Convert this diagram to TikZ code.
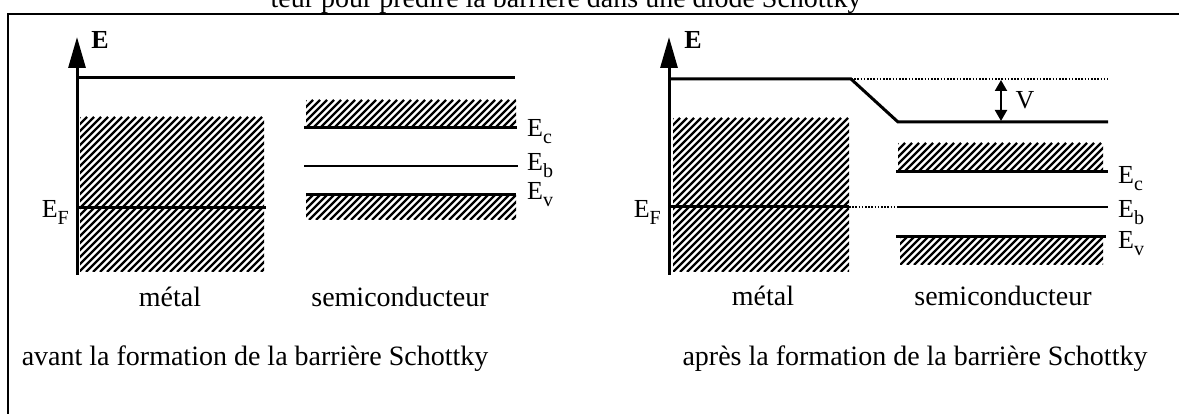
\documentclass[tikz,border=0pt]{standalone}
\usepackage{fontspec}
\setmainfont{Liberation Serif}
\usetikzlibrary{arrows.meta}
\newcommand\hatchrect[4]{%
  \begin{scope}
    \clip (#1,#2) rectangle (#3,#4);
    \pgfmathtruncatemacro\hh{#4-#2}
    \pgfmathtruncatemacro\kstart{#1-(#4-#2)}
    \pgfmathtruncatemacro\knext{\kstart+7}
    \foreach \k in {\kstart,\knext,...,#3} \draw[hatchline] (\k,#4) -- ++(\hh,-\hh);
  \end{scope}}
\newcommand\lbl{\fontsize{28}{30}\selectfont}
\newcommand\sub[1]{{\fontsize{20}{20}\selectfont\raisebox{-7pt}{#1}}}
\begin{document}
\begin{tikzpicture}[x=1pt,y=-1pt,
  frameline/.style={line width=2.4pt},
  level/.style={line width=3pt},
  thinlevel/.style={line width=2.2pt},
  dotline/.style={line width=1.2pt,dash pattern=on 1.6pt off 1.6pt},
  hatchline/.style={line width=2.3pt},
  axis/.style={line width=3pt,-{Triangle[length=31pt,width=17pt]}},
  varrow/.style={line width=2pt,{Triangle[length=11pt,width=12pt]}-{Triangle[length=11pt,width=12pt]}},
  axlabel/.style={font=\fontsize{26}{28}\selectfont\bfseries,inner sep=0pt},
  txt/.style={font=\lbl,inner sep=0pt},
  elabel/.style={font=\fontsize{26}{28}\selectfont,inner sep=0pt}]
\useasboundingbox (0,0) rectangle (1179,414);
\clip (0,0) rectangle (1179,414);
% frame and clipped title
\draw[frameline] (8,414) -- (8,14) -- (1179,14);
\node[txt,anchor=base] (title) at (566,8) {teur pour prédire la barrière dans une diode Schottky};

% ---------------- left diagram ----------------
\coordinate (La0) at (77,275);
\coordinate (La1) at (77,37);
\draw[axis] (La0) -- (La1);
\node[axlabel] (LE) at (100,40) {E};
\coordinate (Lvac0) at (77,78);
\coordinate (Lvac1) at (515,78);
\draw[level] (Lvac0) -- (Lvac1);
\hatchrect{80}{117}{264}{272}
\coordinate (LF0) at (77,208);
\coordinate (LF1) at (266,208);
\draw[level] (LF0) -- (LF1);
\node[elabel,anchor=base east] (LEF) at (69,218) {E\sub{F}};
% semiconductor
\hatchrect{306}{100}{516}{128}
\coordinate (LC0) at (304,128);
\coordinate (LC1) at (517,128);
\draw[level] (LC0) -- (LC1);
\coordinate (LB0) at (304,166);
\coordinate (LB1) at (518,166);
\draw[thinlevel] (LB0) -- (LB1);
\coordinate (LV0) at (306,195);
\coordinate (LV1) at (516,195);
\draw[level] (LV0) -- (LV1);
\hatchrect{306}{195}{516}{220}
\node[elabel,anchor=base west] (LEc) at (527,137) {E\sub{c}};
\node[elabel,anchor=base west] (LEb) at (527,171) {E\sub{b}};
\node[elabel,anchor=base west] (LEv) at (527,200) {E\sub{v}};
\node[txt,anchor=base] (Lmet) at (170,307) {métal};
\node[txt,anchor=base] (Lsem) at (400,307) {semiconducteur};
\node[txt,anchor=base] (Lcap) at (255,366) {avant la formation de la barrière Schottky};

% ---------------- right diagram ----------------
\coordinate (Ra0) at (669,275);
\coordinate (Ra1) at (669,37);
\draw[axis] (Ra0) -- (Ra1);
\node[axlabel] (RE) at (693,40) {E};
\coordinate (Rvac0) at (669,79);
\coordinate (Rvac1) at (851,79);
\coordinate (Rvac2) at (898,122);
\coordinate (Rvac3) at (1108,122);
\coordinate (Rdot1) at (1108,79);
\draw[level] (Rvac0) -- (Rvac1) -- (Rvac2) -- (Rvac3);
\draw[dotline] (Rvac1) -- (Rdot1);
\coordinate (Rv0) at (1001,80);
\coordinate (Rv1) at (1001,121);
\draw[varrow] (Rv0) -- (Rv1);
\node[elabel] (RV) at (1025,100) {V};
\hatchrect{673}{118}{849}{272}
\coordinate (RF0) at (669,207);
\coordinate (RF1) at (849,207);
\coordinate (RB0) at (898,207);
\coordinate (RB1) at (1108,207);
\draw[level] (RF0) -- (RF1);
\draw[dotline] (RF1) -- (RB0);
\draw[thinlevel] (RB0) -- (RB1);
\node[elabel,anchor=base east] (REF) at (661,218) {E\sub{F}};
\hatchrect{898}{143}{1103}{172}
\coordinate (RC0) at (896,172);
\coordinate (RC1) at (1108,172);
\draw[level] (RC0) -- (RC1);
\coordinate (RVv0) at (896,237);
\coordinate (RVv1) at (1106,237);
\draw[level] (RVv0) -- (RVv1);
\hatchrect{900}{237}{1103}{265}
\node[elabel,anchor=base west] (REc) at (1118,184) {E\sub{c}};
\node[elabel,anchor=base west] (REb) at (1118,218) {E\sub{b}};
\node[elabel,anchor=base west] (REv) at (1118,249) {E\sub{v}};
\node[txt,anchor=base] (Rmet) at (763,306) {métal};
\node[txt,anchor=base] (Rsem) at (1003,306) {semiconducteur};
\node[txt,anchor=base] (Rcap) at (915,366) {après la formation de la barrière Schottky};
\end{tikzpicture}
\end{document}
